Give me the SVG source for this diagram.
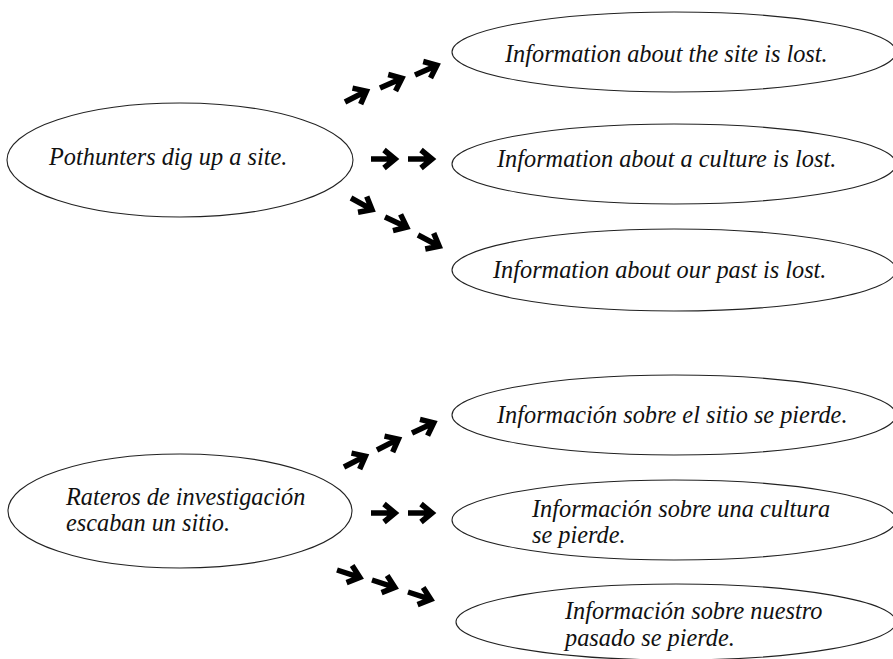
<svg xmlns="http://www.w3.org/2000/svg" xmlns:xlink="http://www.w3.org/1999/xlink" width="893" height="659" viewBox="0 0 893 659">
<style>
.n{fill:none;stroke:#222;stroke-width:1.1}
.t{font-family:"Liberation Serif","Times New Roman",serif;font-style:italic;font-size:24.3px;fill:#111}
.a{fill:none;stroke:#000;stroke-width:5.5;stroke-linejoin:miter;stroke-linecap:butt}
</style>
<defs>
<path id="arr" class="a" d="M0 0 H23 M13 -9 L24 0 L13 9"/>
</defs>
<rect width="893" height="659" fill="#fff"/>
<g id="node-pothunters"><ellipse class="n" cx="180" cy="160" rx="173" ry="57"/><text class="t" x="49" y="165">Pothunters dig up a site.</text></g>
<g id="node-site"><ellipse class="n" cx="674" cy="52" rx="222" ry="40"/><text class="t" x="505" y="62">Information about the site is lost.</text></g>
<g id="node-culture"><ellipse class="n" cx="674" cy="164" rx="222" ry="40"/><text class="t" x="497" y="167">Information about a culture is lost.</text></g>
<g id="node-past"><ellipse class="n" cx="674" cy="270" rx="222" ry="41"/><text class="t" x="493" y="278">Information about our past is lost.</text></g>
<g id="node-rateros"><ellipse class="n" cx="180" cy="511" rx="172" ry="57"/><text class="t" x="66" y="505">Rateros de investigación</text><text class="t" x="66" y="531">escaban un sitio.</text></g>
<g id="node-sitio"><ellipse class="n" cx="674" cy="415" rx="222" ry="40"/><text class="t" x="497" y="423">Información sobre el sitio se pierde.</text></g>
<g id="node-cultura"><ellipse class="n" cx="674" cy="520" rx="222" ry="40"/><text class="t" x="532" y="517">Información sobre una cultura</text><text class="t" x="532" y="543">se pierde.</text></g>
<g id="node-pasado"><ellipse class="n" cx="676" cy="622" rx="220" ry="38"/><text class="t" x="565" y="619">Información sobre nuestro</text><text class="t" x="565" y="646">pasado se pierde.</text></g>
<g id="connectors">
<use xlink:href="#arr" transform="translate(345,102) rotate(-27)"/>
<use xlink:href="#arr" transform="translate(380,88) rotate(-24)"/>
<use xlink:href="#arr" transform="translate(415,75) rotate(-24)"/>
<use xlink:href="#arr" transform="translate(371,159)"/>
<use xlink:href="#arr" transform="translate(408,159)"/>
<use xlink:href="#arr" transform="translate(351,198) rotate(29)"/>
<use xlink:href="#arr" transform="translate(385,217) rotate(25)"/>
<use xlink:href="#arr" transform="translate(418,235) rotate(28)"/>
<use xlink:href="#arr" transform="translate(344,467) rotate(-27)"/>
<use xlink:href="#arr" transform="translate(377,450) rotate(-27)"/>
<use xlink:href="#arr" transform="translate(412,433) rotate(-25)"/>
<use xlink:href="#arr" transform="translate(371,513)"/>
<use xlink:href="#arr" transform="translate(408,513)"/>
<use xlink:href="#arr" transform="translate(337,570) rotate(18)"/>
<use xlink:href="#arr" transform="translate(372,580) rotate(18)"/>
<use xlink:href="#arr" transform="translate(408,592) rotate(18)"/>
</g>
</svg>
